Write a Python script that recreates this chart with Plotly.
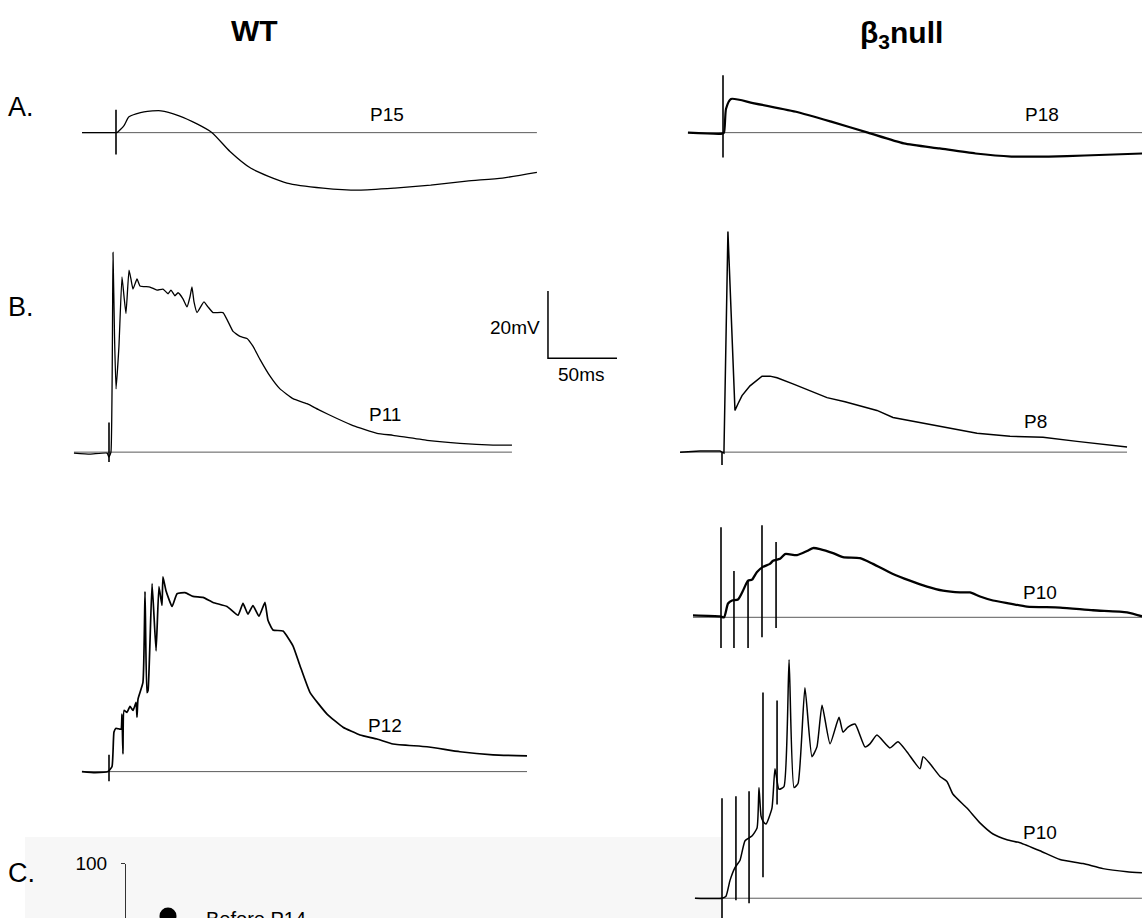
import plotly.graph_objects as go

W, H = 1142, 918
FONT = "Liberation Sans, Arial, sans-serif"

# ---------------- scale (from the 20 mV / 50 ms scale bar) ----------------
SCALE_MV = 20
SCALE_MS = 50
PX_PER_MS = 69 / SCALE_MS
PX_PER_MV = 68 / SCALE_MV

# ---------------- data: time (ms from stimulus) and voltage (mV from rest) ----------------
# A. WT, P15
A_WT_T = [-24.6, -0.7, 0.7, 5.8, 9.4, 20.3, 32.6, 45.7, 58.7, 69.6, 82.6, 97.8, 123.9, 150, 176, 202, 228, 254, 280, 305]
A_WT_V = [0, 0, 0, 2.1, 4.7, 6.2, 6.5, 5.0, 2.6, 0, -5.6, -10.6, -15.0, -16.5, -17.1, -16.5, -15.6, -14.4, -13.5, -11.8]
A_WT_BASE = [-24.6, 305]
A_WT_STIM = [0]
A_WT_ART_TOP = [6.8]
A_WT_ART_BOT = [-6.5]

# A. beta3 null, P18
A_B3_T = [-25.4, -0.7, 0.7, 2.2, 5.8, 21.7, 52.9, 79, 105, 131, 157, 183, 209, 236, 262, 304]
A_B3_V = [0, -0.3, 0, 7.1, 10, 8.8, 6.2, 3.2, 0, -3.2, -4.7, -6.2, -7.1, -7.1, -6.8, -6.2]
A_B3_BASE = [-25.4, 304]
A_B3_STIM = [0]
A_B3_ART_TOP = [17.1]
A_B3_ART_BOT = [-7.4]

# B. WT, P11
B_WT_T = [-25.4, -13.8, -1.4, 0, 1.4, 2.9, 4.0, 5.1, 7.2, 9.4, 10.9, 12.3, 14.5, 15.9, 17.4, 20.3, 22.5, 29.7,
          34.8, 39.1, 42.8, 44.9, 47.8, 50, 53.6, 56.5, 58.7, 60.1, 61.6, 63.8, 68.8, 71.7, 75.4, 82.6, 89.9,
          94.9, 100, 104.3, 109.4, 116.7, 123.9, 133.3, 143.5, 152.9, 165.2, 176.8, 194.2, 205.8, 230.4,
          254.3, 278.3, 292]
B_WT_V = [-0.3, -0.6, -0.3, -1.5, 0, 59.4, 34.4, 18.8, 31.5, 52.1, 46.2, 41.2, 54.1, 51.5, 48.5, 51.5, 49.4,
          49.1, 48.2, 48.5, 47.1, 48.2, 46.5, 47.4, 45.6, 43.2, 46.2, 49.1, 44.7, 41.5, 44.7, 43.2, 41.5, 41.5,
          35.9, 34.4, 33.8, 31.5, 27.6, 22.6, 18.8, 15.9, 14.4, 12.4, 10, 7.9, 5.6, 5, 3.5, 2.6, 2.1, 2.1]
B_WT_BASE = [-25.4, 292]
B_WT_STIM = [0]
B_WT_ART_TOP = [8.8]
B_WT_ART_BOT = [-2.9]

# B. beta3 null, P8
B_B3_T = [-30.4, -15.9, -1.4, 1.4, 4.3, 9.4, 11.6, 14.5, 20.3, 29, 34.8, 39.9, 51.4, 63.8, 76.1, 89.1, 100,
          112.3, 123.9, 143.5, 160.1, 184.8, 208.7, 232.6, 257.2, 276.1, 293.5]
B_B3_V = [0, 0.3, 0.3, -0.3, 65.6, 12.4, 14.4, 16.8, 19.7, 22.6, 22.6, 22.1, 20.3, 18.2, 16.2, 15, 13.8,
          12.4, 10.3, 8.8, 7.4, 5.6, 4.7, 4.4, 3.2, 2.4, 1.5]
B_B3_BASE = [-30.4, 293.5]
B_B3_STIM = [0]
B_B3_ART_TOP = [0]
B_B3_ART_BOT = [-3.8]

# WT, P12
B2_WT_T = [-19.6, -10.1, -0.7, 2.2, 3.6, 5.1, 8.7, 9.4, 10.1, 10.9, 13, 15.2, 17.4, 19.6, 20.3, 21, 24.6, 26.1,
           27.5, 28.3, 31.2, 34.1, 36.2, 38.4, 39.1, 41.3, 45.7, 49.3, 55.1, 60.9, 68.1, 75.4, 85.5, 93.5, 97.1,
           100.7, 104.3, 108.7, 113, 115.2, 118.8, 126.1, 133.3, 138.4, 145.7, 158, 169.6, 181.9, 194.2, 205.8,
           230.4, 254.3, 278.3, 302.9]
B2_WT_V = [0, -0.3, 0, 1.5, 11.8, 12.9, 12.6, 17.1, 5.3, 18.2, 17.6, 19.4, 18.2, 20.6, 16.2, 21.5, 26.5, 53.5,
           23.5, 24.1, 55.9, 35.9, 55, 49.4, 57.9, 53.8, 49.1, 52.9, 53.2, 52.1, 51.8, 50.3, 49.1, 46.5, 50,
           46.8, 49.4, 46.2, 50.3, 45, 42.1, 41.8, 37.4, 31.5, 23.5, 17.1, 13.2, 10.9, 9.7, 8.2, 7.4, 5.9, 5, 4.7]
B2_WT_BASE = [-19.6, 302.9]
B2_WT_STIM = [0]
B2_WT_ART_TOP = [5.0]
B2_WT_ART_BOT = [-2.9]

# beta3 null, P10 (train 1)
C1_B3_T = [-20.3, -0.7, 2.2, 5.1, 8, 12.3, 15.9, 19.6, 22.5, 26.1, 30.4, 35.5, 37.7, 42.8, 46.4, 55.1, 62.3,
           66.7, 71.7, 81.2, 88.4, 100.7, 110.1, 124.6, 136.9, 149.3, 160.9, 173.2, 180.4, 187.7, 197.1, 209.4,
           221.7, 245.7, 269.6, 294.2, 305.1]
C1_B3_V = [0.6, 0.3, 0, 4.1, 5, 5.3, 7.9, 10.9, 11.2, 13.5, 15, 15.9, 16.8, 17.4, 18.8, 18.5, 19.7, 20.6, 20.3,
           19.1, 17.9, 17.6, 15.9, 12.9, 10.9, 9.1, 7.9, 7.4, 7.4, 6.2, 5, 4.1, 3.2, 2.9, 2.1, 1.5, 0.3]
C1_B3_BASE = [-20.3, 305.1]
C1_B3_STIM = [0, 9.4, 19.6, 29.7, 39.9]
C1_B3_ART_TOP = [26.8, 13.8, 10.9, 27.4, 22.4]
C1_B3_ART_BOT = [-9.1, -9.1, -9.1, -5.9, -3.2]

# beta3 null, P10 (train 2)
C2_B3_T = [-19.6, 0, 2.9, 5.8, 9.4, 13, 16.7, 21.7, 25.4, 26.8, 28.3, 29.7, 31.9, 36.2, 38.4, 41.3, 44.9, 48.6,
           52.2, 55.1, 60.1, 65.2, 68.8, 72.5, 78.3, 84.8, 87.7, 91.3, 96.4, 103.6, 107.2, 112.3, 121.7, 127.5,
           134.1, 143.5, 145.7, 150.7, 158, 163, 167.4, 177.5, 186.9, 196.4, 206.5, 215.9, 230.4, 244.9, 261.6,
           276.1, 293.5, 304.3]
C2_B3_V = [0, 0, 0.6, 5.3, 9.1, 11.2, 17.1, 18.5, 20.9, 32.9, 24.4, 22.9, 22.1, 26.8, 38.5, 32.4, 33.2, 70.9,
           32.9, 34.1, 62.6, 42.1, 45, 57.4, 45.9, 53.8, 49.4, 50.9, 51.8, 45, 45.9, 48.5, 44.7, 46.5, 43.5,
           38.5, 42.1, 40, 36.2, 34.7, 30.9, 26.8, 22.4, 19.1, 17.4, 16.5, 14.1, 11.5, 10.3, 8.8, 7.9, 7.6]
C2_B3_BASE = [-19.6, 304.3]
C2_B3_STIM = [0, 10.1, 19.6, 29.7, 39.9]
C2_B3_ART_TOP = [29.7, 30.3, 31.8, 61.2, 58.8]
C2_B3_ART_BOT = [-5.9, -0.6, -1.5, 6.2, 27.9]

TRACE_LABELS = ["P15", "P18", "P11", "P8", "P12", "P10", "P10"]
COLUMN_TITLES = ["<b>WT</b>", "<b>β<sub>3</sub>null</b>"]
ROW_LABELS = ["A.", "B.", "C."]
C_YTICK = [100]
C_LEGEND = "Before P14"

# ---------------- layout constants (pixel placement of each panel) ----------------
panels = [
    dict(t=A_WT_T, v=A_WT_V, base=A_WT_BASE, st=A_WT_STIM, top=A_WT_ART_TOP, bot=A_WT_ART_BOT,
         origin=(116, 124), lw=1.3, shape="spline", sm=0.6, label=(387, 106)),
    dict(t=A_B3_T, v=A_B3_V, base=A_B3_BASE, st=A_B3_STIM, top=A_B3_ART_TOP, bot=A_B3_ART_BOT,
         origin=(723, 124), lw=2.2, shape="spline", sm=0.6, label=(1042, 106)),
    dict(t=B_WT_T, v=B_WT_V, base=B_WT_BASE, st=B_WT_STIM, top=B_WT_ART_TOP, bot=B_WT_ART_BOT,
         origin=(109, 447), lw=1.3, shape="spline", sm=0.4, label=(385, 409)),
    dict(t=B_B3_T, v=B_B3_V, base=B_B3_BASE, st=B_B3_STIM, top=B_B3_ART_TOP, bot=B_B3_ART_BOT,
         origin=(722, 447), lw=1.5, shape="linear", sm=0, label=(1035, 416)),
    dict(t=B2_WT_T, v=B2_WT_V, base=B2_WT_BASE, st=B2_WT_STIM, top=B2_WT_ART_TOP, bot=B2_WT_ART_BOT,
         origin=(109, 770), lw=1.7, shape="spline", sm=0.4, label=(385, 723)),
    dict(t=C1_B3_T, v=C1_B3_V, base=C1_B3_BASE, st=C1_B3_STIM, top=C1_B3_ART_TOP, bot=C1_B3_ART_BOT,
         origin=(721, 614), lw=2.3, shape="spline", sm=0.6, label=(1040, 589)),
    dict(t=C2_B3_T, v=C2_B3_V, base=C2_B3_BASE, st=C2_B3_STIM, top=C2_B3_ART_TOP, bot=C2_B3_ART_BOT,
         origin=(722, 898), lw=1.5, shape="spline", sm=0.5, label=(1040, 832)),
]


def px(x, y):
    return x / W, 1 - y / H


fig = go.Figure()
layout_axes = {}

for i, p in enumerate(panels, start=1):
    xa = "x" if i == 1 else f"x{i}"
    ya = "y" if i == 1 else f"y{i}"
    ox, oy = p["origin"]
    xr = [(0 - ox) / PX_PER_MS, (W - ox) / PX_PER_MS]
    yr = [(oy - H) / PX_PER_MV, oy / PX_PER_MV]
    xkey = "xaxis" if i == 1 else f"xaxis{i}"
    ykey = "yaxis" if i == 1 else f"yaxis{i}"
    xd = dict(domain=[0, 1], range=xr, visible=False, anchor=ya)
    yd = dict(domain=[0, 1], range=yr, visible=False, anchor=xa)
    if i > 1:
        xd["overlaying"] = "x"
        yd["overlaying"] = "y"
    layout_axes[xkey] = xd
    layout_axes[ykey] = yd

    # baseline
    fig.add_trace(go.Scatter(x=p["base"], y=[0, 0], mode="lines", xaxis=xa, yaxis=ya,
                             line=dict(color="#5a5a5a", width=1), showlegend=False, hoverinfo="skip"))
    # stimulus artifacts
    ax_, ay_ = [], []
    for t0, t1, b in zip(p["st"], p["top"], p["bot"]):
        ax_ += [t0, t0, None]
        ay_ += [b, t1, None]
    fig.add_trace(go.Scatter(x=ax_, y=ay_, mode="lines", xaxis=xa, yaxis=ya,
                             line=dict(color="black", width=1.6), showlegend=False, hoverinfo="skip"))
    # response
    line = dict(color="black", width=p["lw"], shape=p["shape"])
    if p["shape"] == "spline":
        line["smoothing"] = p["sm"]
    fig.add_trace(go.Scatter(x=p["t"], y=p["v"], mode="lines", xaxis=xa, yaxis=ya,
                             line=line, showlegend=False, name=TRACE_LABELS[i - 1]))

# scale bar drawn in the B (WT) panel coordinates
SB_T0, SB_V0 = 318.1, 27.9
fig.add_trace(go.Scatter(x=[SB_T0, SB_T0, SB_T0 + SCALE_MS], y=[SB_V0 + SCALE_MV, SB_V0, SB_V0],
                         mode="lines", xaxis="x3", yaxis="y3", line=dict(color="black", width=1.5),
                         showlegend=False, hoverinfo="skip"))

# panel C axis (only its top part is visible)
fig.add_trace(go.Scatter(x=[], y=[], mode="markers", xaxis="x8", yaxis="y8", name=C_LEGEND,
                         marker=dict(color="black", size=17), showlegend=False))
layout_axes["xaxis8"] = dict(domain=[126 / W, 722 / W], range=[0, 1], visible=False, anchor="y8")
layout_axes["yaxis8"] = dict(domain=[0, (918 - 863) / H], range=[80, 100], anchor="x8",
                             showline=True, linecolor="#333", linewidth=1, ticks="outside", ticklen=4,
                             tickcolor="#333", tickvals=C_YTICK, showgrid=False, zeroline=False,
                             tickfont=dict(size=19, color="black", family=FONT), ticklabelstandoff=10)

annotations = []


def add_text(text, x, y, size, xanchor="center", yanchor="middle"):
    xp, yp = px(x, y)
    annotations.append(dict(text=text, x=xp, y=yp, xref="paper", yref="paper", showarrow=False,
                            xanchor=xanchor, yanchor=yanchor,
                            font=dict(size=size, color="black", family=FONT)))


for text, (x, y) in zip(COLUMN_TITLES, [(254, 21), (901, 25)]):
    add_text(text, x, y, 30)
for text, (x, y) in zip(ROW_LABELS, [(6, 98), (6, 300), (6, 873)]):
    add_text(text, x, y, 27, xanchor="left")
for p, text in zip(panels, TRACE_LABELS):
    add_text(text, p["label"][0], p["label"][1], 19)
add_text(f"{SCALE_MV}mV", 542, 321, 19, xanchor="right")
add_text(f"{SCALE_MS}ms", 581, 369, 19)
add_text(C_LEGEND, 204, 919, 20, xanchor="left")

shapes = [
    dict(type="rect", xref="paper", yref="paper", x0=25 / W, x1=722 / W, y0=0, y1=1 - 836 / H,
         fillcolor="#f7f7f7", line=dict(width=0), layer="below"),
    dict(type="circle", xref="paper", yref="paper", x0=159.5 / W, x1=176.5 / W, y0=1 - 924.5 / H,
         y1=1 - 907.5 / H, fillcolor="black", line=dict(width=0)),
]

fig.update_layout(
    width=W, height=H, autosize=False,
    margin=dict(l=0, r=0, t=0, b=0),
    paper_bgcolor="white", plot_bgcolor="rgba(0,0,0,0)",
    font=dict(family=FONT, color="black"),
    annotations=annotations, shapes=shapes, showlegend=False,
    **layout_axes,
)

fig.write_html("out.html")
